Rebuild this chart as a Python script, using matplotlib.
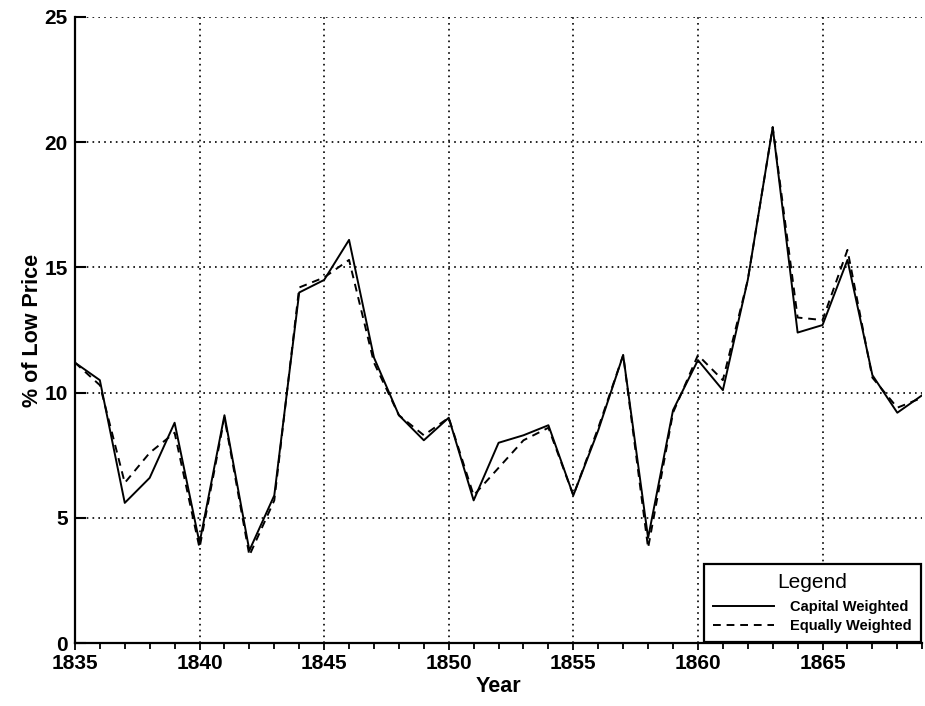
import numpy as np
import matplotlib.pyplot as plt
from matplotlib.ticker import MultipleLocator

plt.rcParams['font.family'] = ['Liberation Sans', 'DejaVu Sans']

# data
years = list(range(1835, 1870))
capital = [11.2, 10.5, 5.6, 6.6, 8.8, 4.0, 9.1, 3.7, 5.9, 14.0, 14.5, 16.1,
           11.4, 9.1, 8.1, 9.0, 5.7, 8.0, 8.3, 8.7, 5.9, 8.5, 11.5, 4.2,
           9.3, 11.3, 10.1, 14.5, 20.6, 12.4, 12.7, 15.3, 10.7, 9.2, 9.9]
equal = [11.2, 10.3, 6.4, 7.6, 8.4, 3.8, 9.0, 3.5, 5.7, 14.2, 14.6, 15.3,
         11.2, 9.1, 8.3, 9.0, 5.9, 7.0, 8.1, 8.6, 5.9, 8.6, 11.5, 3.8,
         9.2, 11.5, 10.5, 14.5, 20.6, 13.0, 12.9, 15.7, 10.6, 9.4, 9.8]

fig = plt.figure(figsize=(9.25, 7.06), dpi=100)
ax = fig.add_axes([0.081, 0.089, 0.916, 0.887])

ax.plot(years, capital, color='black', lw=1.4, label='Capital Weighted')
ax.plot(years, equal, color='black', lw=1.4, ls=(0, (4, 3)), label='Equally Weighted')

ax.set_xlim(1835, 1869)
ax.set_ylim(0, 25)
ax.xaxis.set_major_locator(MultipleLocator(5))
ax.xaxis.set_minor_locator(MultipleLocator(1))
ax.yaxis.set_major_locator(MultipleLocator(5))

ax.grid(True, which='major', color='black', ls=(0, (1, 2.5)), lw=1.2)
for s in ['top', 'right']:
    ax.spines[s].set_visible(False)
ax.spines['left'].set_linewidth(1.6)
ax.spines['bottom'].set_linewidth(1.6)

ax.tick_params(axis='x', which='major', direction='out', length=5, width=1.3,
               labelsize=15, pad=3)
ax.tick_params(axis='x', which='minor', direction='out', length=4, width=1.3)
ax.tick_params(axis='y', which='major', direction='in', length=8, width=1.5,
               labelsize=15, pad=5)
for lab in ax.get_xticklabels() + ax.get_yticklabels():
    lab.set_fontweight('bold')

ax.set_xlabel('Year', fontsize=15.5, fontweight='bold', labelpad=2)
ax.set_ylabel('% of Low Price', fontsize=15.5, fontweight='bold', labelpad=1)

leg = ax.legend(loc='lower right', title='Legend', fontsize=10.5,
                title_fontsize=15, fancybox=False, edgecolor='black',
                framealpha=1, borderaxespad=0.1, handlelength=4.2,
                handletextpad=1.1, borderpad=0.6, labelspacing=0.35)
leg.get_frame().set_linewidth(1.6)
leg._legend_box.sep = 6
for t in leg.get_texts():
    t.set_fontweight('bold')

fig.savefig('out.png', dpi=100)
